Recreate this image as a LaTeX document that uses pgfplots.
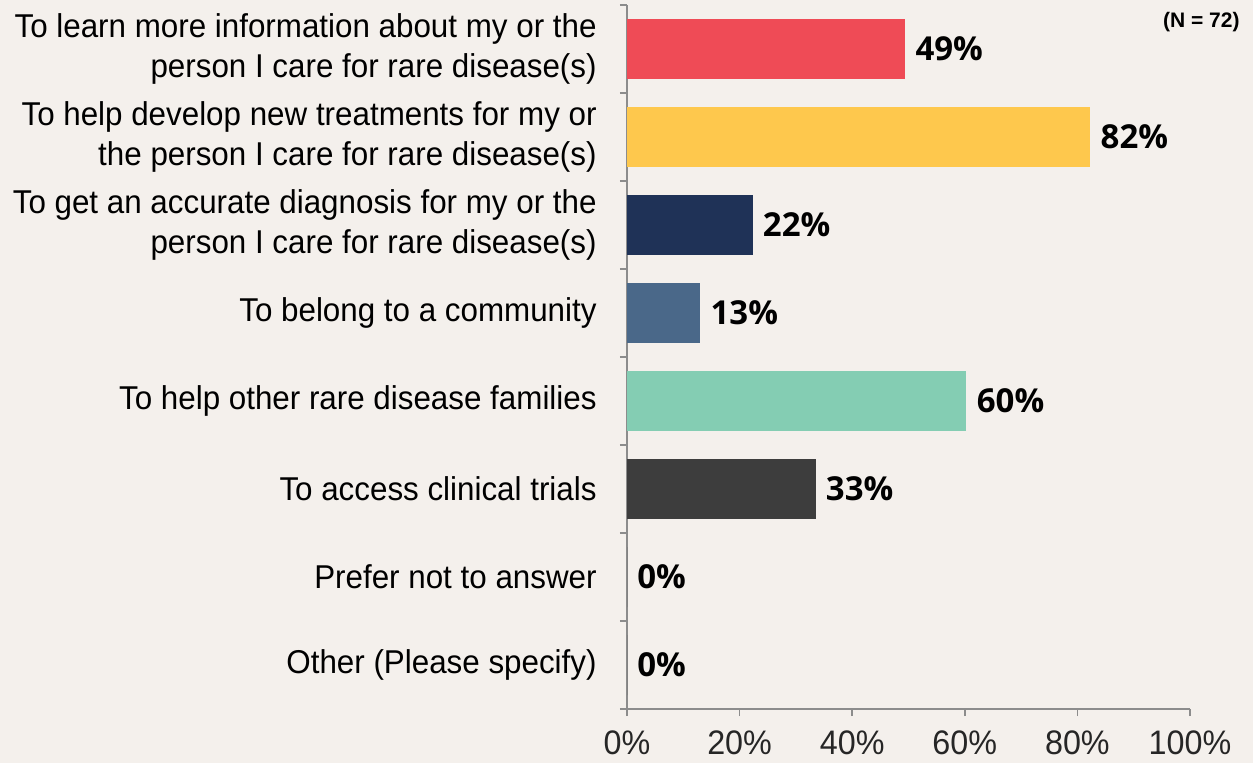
\documentclass[border=0pt]{standalone}
\usepackage{fontspec}
\usepackage{pgfplots}
\pgfplotsset{compat=1.18}
\setmainfont{Liberation Sans}
\newfontfamily\condfont{Liberation Sans}[FakeStretch=0.95]
\newfontfamily\barfont{Open Sans}
\definecolor{bg}{HTML}{F4F0EC}
\definecolor{cA}{HTML}{EF4B56}
\definecolor{cB}{HTML}{FEC84D}
\definecolor{cC}{HTML}{1F3257}
\definecolor{cD}{HTML}{4A6889}
\definecolor{cE}{HTML}{84CDB3}
\definecolor{cF}{HTML}{3D3D3D}
\definecolor{axgray}{HTML}{8C8C8C}
\begin{document}
\begin{tikzpicture}
\fill[bg] (-313.5pt,-27pt) rectangle (313pt,354.5pt);
\useasboundingbox (-313.5pt,-27pt) rectangle (313pt,354.5pt);
\begin{axis}[
  at={(0,0)}, anchor=south west,
  width=281.5pt, height=352pt, scale only axis,
  xmin=0, xmax=100, ymin=0.5, ymax=8.5, y dir=reverse,
  enlargelimits=false, clip=false,
  axis x line*=bottom, axis y line*=left,
  axis line style={draw=axgray, line width=0.8pt},
  tick align=outside,
  major tick length=3.5pt, minor tick length=3.5pt,
  tick style={draw=axgray, line width=0.8pt},
  xtick={0,20,40,60,80,100},
  xticklabel={\pgfmathprintnumber{\tick}\%},
  /pgf/number format/assume math mode=true,
  xticklabel style={font=\condfont\fontsize{17}{19}\selectfont, text=black!85, yshift=-4pt},
  ytick={1,...,8},
  minor ytick={0.5,1.5,...,8.5},
  major y tick style={draw=none},
  yticklabels={
    {To learn more information about my  or the\\person I care for rare disease(s)},
    {To help develop new treatments for my or\\the person I care for rare disease(s)},
    {To get an accurate diagnosis for my or the\\person I care for rare disease(s)},
    {To belong to a community},
    {To help other rare disease families},
    {To access clinical trials},
    {Prefer not to answer},
    {Other (Please specify)}},
  yticklabel style={font=\condfont\fontsize{16.5}{20}\selectfont, align=right, inner sep=0pt, xshift=-11.5pt},
  xbar, bar width=30pt,
  point meta=explicit symbolic,
  nodes near coords,
  nodes near coords style={font=\barfont\bfseries\fontsize{16.5}{20}\selectfont, anchor=west, inner sep=0pt, xshift=5pt, text=black},
]
\addplot[xbar, bar shift=0pt, fill=cA, draw=none] coordinates {(49.4,1) [49\%]};
\addplot[xbar, bar shift=0pt, fill=cB, draw=none] coordinates {(82.3,2) [82\%]};
\addplot[xbar, bar shift=0pt, fill=cC, draw=none] coordinates {(22.3,3) [22\%]};
\addplot[xbar, bar shift=0pt, fill=cD, draw=none] coordinates {(13.0,4) [13\%]};
\addplot[xbar, bar shift=0pt, fill=cE, draw=none] coordinates {(60.3,5) [60\%]};
\addplot[xbar, bar shift=0pt, fill=cF, draw=none] coordinates {(33.5,6) [33\%]};
\addplot[xbar, bar shift=0pt, fill=cF, draw=none] coordinates {(0,7) [0\%]};
\addplot[xbar, bar shift=0pt, fill=cF, draw=none] coordinates {(0,8) [0\%]};
\node[anchor=north east, inner sep=0pt, font=\bfseries\fontsize{10.5}{12}\selectfont] at ([xshift=25pt,yshift=-3.5pt]rel axis cs:1,1) {(N = 72)};
\end{axis}
\end{tikzpicture}
\end{document}
